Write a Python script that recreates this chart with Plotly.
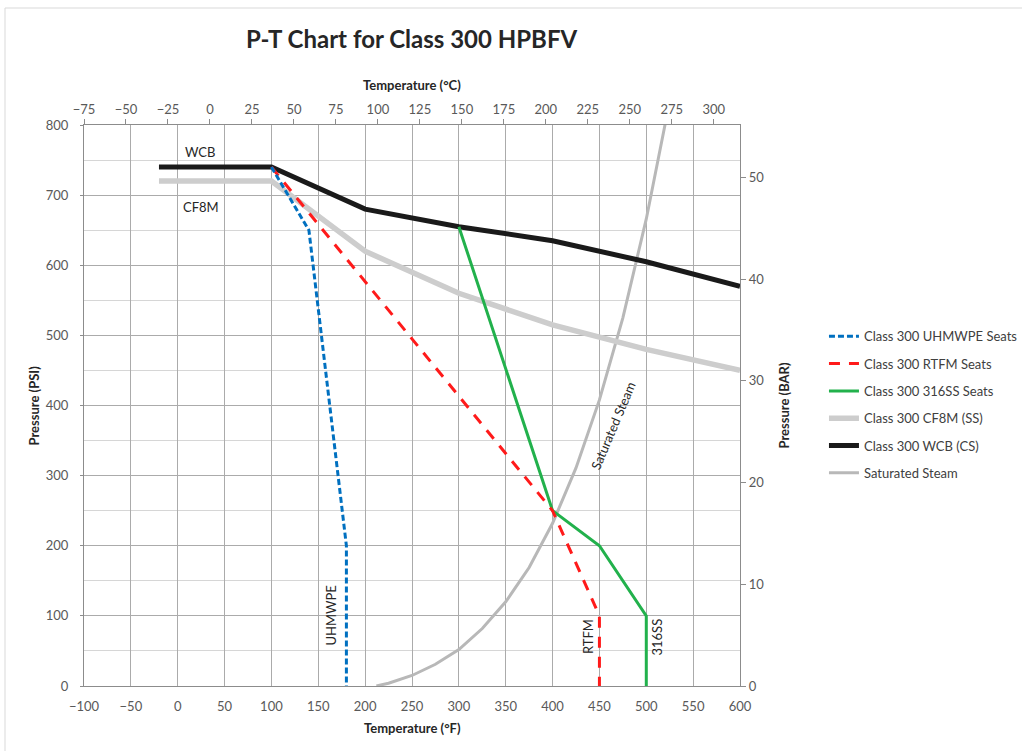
import plotly.graph_objects as go

# ---- data (temperature in °F, pressure in psi) ----
uhmwpe_F = [100, 140, 180, 180]
uhmwpe_P = [740, 650, 200, 0]

rtfm_F = [100, 400, 450, 450]
rtfm_P = [740, 250, 100, 0]

ss316_F = [300, 400, 450, 500, 500]
ss316_P = [655, 250, 200, 100, 0]

cf8m_F = [-20, 100, 200, 300, 400, 500, 600]
cf8m_P = [720, 720, 620, 560, 515, 480, 450]

wcb_F = [-20, 100, 200, 300, 400, 500, 600]
wcb_P = [740, 740, 680, 655, 635, 605, 570]

steam_F = [212, 225, 250, 275, 300, 325, 350, 375, 400, 425, 450, 475, 500, 525]
steam_P = [0, 4, 15, 31, 52, 82, 120, 169, 232, 311, 408, 525, 666, 834]

f_ticks = [-100, -50, 0, 50, 100, 150, 200, 250, 300, 350, 400, 450, 500, 550, 600]
c_ticks = [-75, -50, -25, 0, 25, 50, 75, 100, 125, 150, 175, 200, 225, 250, 275, 300]
psi_ticks = [0, 100, 200, 300, 400, 500, 600, 700, 800]
bar_ticks = [0, 10, 20, 30, 40, 50]

FONT = "Lato, 'Open Sans', sans-serif"
TICKC = "#595959"
AXC = "#8C8C8C"
GRID = "#ABABAB"
MINOR = "#D6D6D6"

fig = go.Figure()

series = [
    ("Class 300 UHMWPE Seats", uhmwpe_F, uhmwpe_P, dict(color="#0070C0", width=3, dash="6px,3px")),
    ("Class 300 RTFM Seats", rtfm_F, rtfm_P, dict(color="#FF1A1A", width=3, dash="11px,9px")),
    ("Class 300 316SS Seats", ss316_F, ss316_P, dict(color="#22B14C", width=3)),
    ("Class 300 CF8M (SS)", cf8m_F, cf8m_P, dict(color="#CDCDCD", width=5.5)),
    ("Class 300 WCB (CS)", wcb_F, wcb_P, dict(color="#1A1A1A", width=5)),
    ("Saturated Steam", steam_F, steam_P, dict(color="#B8B8B8", width=3)),
]
draw_order = [5, 3, 4, 2, 1, 0]
for i in draw_order:
    name, xs, ys, ln = series[i]
    fig.add_trace(go.Scatter(x=xs, y=ys, mode="lines", name=name, line=ln,
                             legendgroup=name, legendrank=i + 1))

# invisible trace to hold the secondary axes
fig.add_trace(go.Scatter(x=[None], y=[None], xaxis="x2", yaxis="y2",
                         showlegend=False, hoverinfo="skip"))

fig.update_layout(
    width=1022, height=751,
    margin=dict(l=84, r=282, t=125, b=65, autoexpand=False),
    paper_bgcolor="white", plot_bgcolor="white",
    font=dict(family=FONT, size=13, color=TICKC),
    showlegend=True,
    legend=dict(x=1.128, xanchor="left", y=0.65, yanchor="top",
                font=dict(family=FONT, size=13, color="#404040"),
                traceorder="grouped", tracegroupgap=7.4,
                bgcolor="rgba(0,0,0,0)"),
    xaxis=dict(range=[-100, 600], tickvals=f_ticks, showgrid=True, gridcolor=GRID,
               gridwidth=1, zeroline=False, showline=True, linecolor=AXC, linewidth=1.3,
               ticks="", tickfont=dict(size=13, color=TICKC), ticklabelstandoff=8,
               mirror=False),
    xaxis2=dict(range=[-75, 315.6], tickvals=c_ticks, overlaying="x", side="top",
                anchor="y", showgrid=False, zeroline=False, showline=True,
                linecolor=AXC, linewidth=1.3, ticks="outside", ticklen=5,
                tickcolor=AXC, tickfont=dict(size=13, color=TICKC)),
    yaxis=dict(range=[0, 800], tickvals=psi_ticks, showgrid=True, gridcolor=GRID,
               zeroline=False, showline=True, linecolor=AXC, linewidth=1.3,
               ticks="outside", ticklen=3, tickcolor=AXC,
               tickfont=dict(size=13, color=TICKC), ticklabelstandoff=9,
               minor=dict(dtick=50, showgrid=True, gridcolor=MINOR, ticks="")),
    yaxis2=dict(range=[0, 800 / 14.5038], tickvals=bar_ticks, overlaying="y",
                side="right", anchor="x", showgrid=False, zeroline=False,
                showline=True, linecolor=AXC, linewidth=1.3, ticks="outside",
                ticklen=5, tickcolor=AXC, tickfont=dict(size=13, color=TICKC)),
    shapes=[dict(type="rect", xref="paper", yref="paper",
                 x0=-79 / 656, x1=1.6, y0=-0.2, y1=1 + 117 / 561,
                 line=dict(color="#D9D9D9", width=1), fillcolor="rgba(0,0,0,0)",
                 layer="below")],
)

ann = []
ann.append(dict(text="<b>P-T Chart for Class 300 HPBFV</b>", xref="paper", yref="paper",
                x=0.5, y=1 + 87 / 561, xanchor="center", yanchor="middle", showarrow=False,
                font=dict(family=FONT, size=24, color="#262626")))
ann.append(dict(text="<b>Temperature (°C)</b>", xref="paper", yref="paper",
                x=0.5, y=1 + 40 / 561, xanchor="center", yanchor="middle", showarrow=False,
                font=dict(family=FONT, size=13, color="#262626")))
ann.append(dict(text="<b>Temperature (°F)</b>", xref="paper", yref="paper",
                x=0.5, y=-42 / 561, xanchor="center", yanchor="middle", showarrow=False,
                font=dict(family=FONT, size=13, color="#262626")))
ann.append(dict(text="<b>Pressure (PSI)</b>", xref="paper", yref="paper", textangle=-90,
                x=-51 / 656, y=0.5, xanchor="center", yanchor="middle", showarrow=False,
                font=dict(family=FONT, size=13, color="#262626")))
ann.append(dict(text="<b>Pressure (BAR)</b>", xref="paper", yref="paper", textangle=-90,
                x=1 + 43 / 656, y=0.5, xanchor="center", yanchor="middle", showarrow=False,
                font=dict(family=FONT, size=13, color="#262626")))

labels = [
    ("WCB", 24, 761, 0),
    ("CF8M", 25, 683, 0),
    ("UHMWPE", 164, 101, -90),
    ("RTFM", 438, 70, -90),
    ("316SS", 511, 70, -90),
    ("Saturated Steam", 465, 372, -67),
]
for t, x, y, a in labels:
    ann.append(dict(text=t, x=x, y=y, xref="x", yref="y", showarrow=False,
                    textangle=a, xanchor="center", yanchor="middle",
                    font=dict(family=FONT, size=13, color="#262626")))
fig.update_layout(annotations=ann)

fig.write_html("out.html", config={"displayModeBar": False},
               post_script="document.body.style.margin='0';")
